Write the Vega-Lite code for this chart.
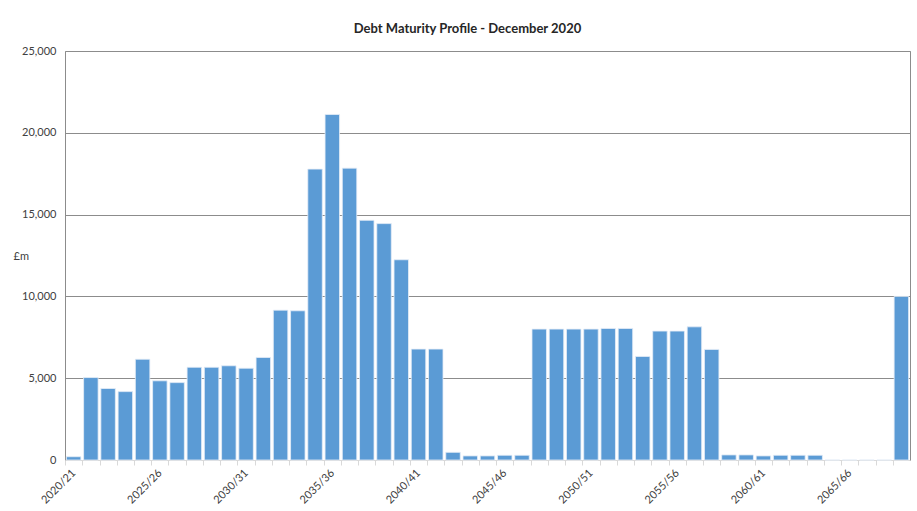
{
  "$schema": "https://vega.github.io/schema/vega-lite/v6.json",
  "width": 845,
  "height": 409,
  "autosize": {"type": "none"},
  "padding": {"left": 65, "top": 51, "right": 7, "bottom": 51},
  "background": "white",
  "title": {
    "text": "Debt Maturity Profile - December 2020",
    "font": "Lato",
    "fontSize": 13,
    "fontWeight": "bold",
    "color": "#262626",
    "anchor": "middle",
    "offset": 9,
    "dx": -20
  },
  "config": {
    "view": {"stroke": "#8c8c8c", "strokeWidth": 1},
    "axis": {"labelFont": "Lato", "titleFont": "Lato", "labelColor": "#404040", "titleColor": "#404040"}
  },
  "data": {
    "values": [
      {"year": "2020/21", "value": 200},
      {"year": "2021/22", "value": 5040},
      {"year": "2022/23", "value": 4370},
      {"year": "2023/24", "value": 4180},
      {"year": "2024/25", "value": 6160},
      {"year": "2025/26", "value": 4840},
      {"year": "2026/27", "value": 4730},
      {"year": "2027/28", "value": 5670},
      {"year": "2028/29", "value": 5670},
      {"year": "2029/30", "value": 5760},
      {"year": "2030/31", "value": 5610},
      {"year": "2031/32", "value": 6270},
      {"year": "2032/33", "value": 9160},
      {"year": "2033/34", "value": 9120},
      {"year": "2034/35", "value": 17780},
      {"year": "2035/36", "value": 21120},
      {"year": "2036/37", "value": 17840},
      {"year": "2037/38", "value": 14650},
      {"year": "2038/39", "value": 14450},
      {"year": "2039/40", "value": 12240},
      {"year": "2040/41", "value": 6780},
      {"year": "2041/42", "value": 6780},
      {"year": "2042/43", "value": 470},
      {"year": "2043/44", "value": 250},
      {"year": "2044/45", "value": 250},
      {"year": "2045/46", "value": 290},
      {"year": "2046/47", "value": 290},
      {"year": "2047/48", "value": 8000},
      {"year": "2048/49", "value": 8000},
      {"year": "2049/50", "value": 8000},
      {"year": "2050/51", "value": 8000},
      {"year": "2051/52", "value": 8040},
      {"year": "2052/53", "value": 8040},
      {"year": "2053/54", "value": 6330},
      {"year": "2054/55", "value": 7880},
      {"year": "2055/56", "value": 7880},
      {"year": "2056/57", "value": 8140},
      {"year": "2057/58", "value": 6760},
      {"year": "2058/59", "value": 310},
      {"year": "2059/60", "value": 310},
      {"year": "2060/61", "value": 250},
      {"year": "2061/62", "value": 290},
      {"year": "2062/63", "value": 290},
      {"year": "2063/64", "value": 290},
      {"year": "2064/65", "value": 0},
      {"year": "2065/66", "value": 0},
      {"year": "2066/67", "value": 0},
      {"year": "2067/68", "value": 0},
      {"year": "2068/69", "value": 10000}
    ]
  },
  "mark": {"type": "bar", "color": "#5b9bd5", "stroke": "#e6eef8", "strokeWidth": 0.8},
  "encoding": {
    "x": {
      "field": "year",
      "type": "ordinal",
      "sort": null,
      "scale": {"paddingInner": 0.16, "paddingOuter": 0.08},
      "axis": {
        "title": null,
        "labelAngle": -45,
        "labelAlign": "right",
        "labelBaseline": "middle",
        "labelFontSize": 11,
        "labelOverlap": false,
        "labelPadding": 6,
        "labelOffset": 8.6,
        "labelExpr": "toNumber(slice(datum.value, 0, 4)) % 5 == 0 ? datum.value : ''",
        "ticks": true,
        "tickOffset": -8.6,
        "tickColor": "#d9d9d9",
        "tickSize": 5,
        "domainColor": "#d9d9d9",
        "domainWidth": 1
      }
    },
    "y": {
      "field": "value",
      "type": "quantitative",
      "scale": {"domain": [0, 25000], "nice": false},
      "axis": {
        "values": [0, 5000, 10000, 15000, 20000, 25000],
        "format": ",d",
        "labelFontSize": 11,
        "labelPadding": 9,
        "ticks": false,
        "domain": false,
        "grid": true,
        "gridColor": "#8c8c8c",
        "gridWidth": 1,
        "title": "£m",
        "titleAngle": 0,
        "titleFontSize": 11,
        "titleFontWeight": "normal",
        "titleAlign": "left",
        "titleBaseline": "middle",
        "titleX": -52,
        "titleY": 205
      }
    }
  }
}
